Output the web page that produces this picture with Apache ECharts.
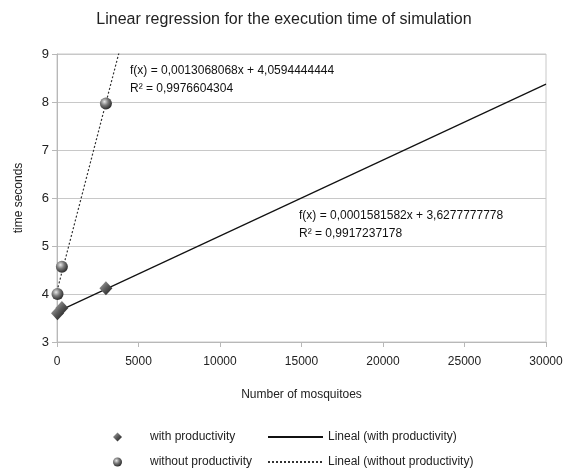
<!DOCTYPE html>
<html>
<head>
<meta charset="utf-8">
<script src="https://cdn.jsdelivr.net/npm/echarts@6/dist/echarts.min.js"></script>
<style>html,body{margin:0;padding:0;background:#fff}#c{width:568px;height:470px}</style>
</head>
<body>
<div id="c"></div>
<script>
// Data
const withProdX = [30, 300, 3000];
const withProdY = [3.6, 3.71, 4.12];
const withoutProdX = [30, 300, 3000];
const withoutProdY = [4.0, 4.57, 7.97];
// Regression coefficients shown on the chart
const fitWith = { slope: 0.0001581582, intercept: 3.6277777778, r2: '0,9917237178', label: '0,0001581582x + 3,6277777778' };
const fitWithout = { slope: 0.0013068068, intercept: 4.0594444444, r2: '0,9976604304', label: '0,0013068068x + 4,0594444444' };
const xRange = [0, 30000];
const yRange = [3, 9];

const pts = (xs, ys) => xs.map((x, i) => [x, ys[i]]);
const trend = f => xRange.map(x => [x, f.intercept + f.slope * x]);

const FONT = 'Liberation Sans, Arial, sans-serif';
const chart = echarts.init(document.getElementById('c'), null, { renderer: 'canvas' });

const sphere = new echarts.graphic.RadialGradient(0.38, 0.35, 0.7, [
  { offset: 0, color: '#e8e8e8' }, { offset: 0.45, color: '#7a7a7a' }, { offset: 1, color: '#222' }
]);
const diamond = new echarts.graphic.LinearGradient(0, 0, 1, 1, [
  { offset: 0, color: '#b0b0b0' }, { offset: 0.5, color: '#5a5a5a' }, { offset: 1, color: '#151515' }
]);

chart.setOption({
  animation: false,
  title: {
    text: 'Linear regression for the execution time of simulation',
    left: 'center', top: 7,
    textStyle: { fontFamily: FONT, fontSize: 16, fontWeight: 'normal', color: '#222' }
  },
  grid: { left: 57, right: 22, top: 54, bottom: 128, show: true, borderColor: '#c8c8c8', borderWidth: 1 },
  xAxis: {
    type: 'value', min: xRange[0], max: xRange[1], interval: 5000,
    name: 'Number of mosquitoes', nameLocation: 'middle', nameGap: 47,
    nameTextStyle: { fontFamily: FONT, fontSize: 12, color: '#222' },
    axisLine: { show: true, lineStyle: { color: '#b8b8b8' } },
    axisTick: { show: true, length: 5, lineStyle: { color: '#b8b8b8' } },
    axisLabel: { fontFamily: FONT, fontSize: 12, color: '#222', margin: 14, formatter: v => String(v) },
    splitLine: { show: false }
  },
  yAxis: {
    type: 'value', min: yRange[0], max: yRange[1], interval: 1,
    name: 'time seconds', nameLocation: 'middle', nameGap: 32,
    nameTextStyle: { fontFamily: FONT, fontSize: 12, color: '#222' },
    axisLine: { show: true, lineStyle: { color: '#b8b8b8' } },
    axisTick: { show: true, length: 5, lineStyle: { color: '#b8b8b8' } },
    axisLabel: { fontFamily: FONT, fontSize: 13, color: '#222', margin: 8 },
    splitLine: { show: true, lineStyle: { color: '#c8c8c8' } }
  },
  legend: [
    {
      orient: 'vertical', left: 113, top: 431, padding: 0, itemWidth: 9, itemHeight: 9, itemGap: 13,
      textStyle: { fontFamily: FONT, fontSize: 12, color: '#222', padding: [0, 0, 0, 23] },
      data: ['with productivity', 'without productivity']
    },
    {
      orient: 'vertical', left: 267, top: 431, padding: 0, itemWidth: 55, itemHeight: 10, itemGap: 13,
      itemStyle: { opacity: 0 },
      textStyle: { fontFamily: FONT, fontSize: 12, color: '#222' },
      data: ['Lineal (with productivity)', 'Lineal (without productivity)']
    }
  ],
  series: [
    {
      name: 'Lineal (with productivity)', type: 'line', data: trend(fitWith), symbol: 'none',
      lineStyle: { color: '#111', width: 1.2 }, itemStyle: { color: '#111' }, clip: true, z: 2
    },
    {
      name: 'Lineal (without productivity)', type: 'line', data: trend(fitWithout), symbol: 'none',
      lineStyle: { color: '#333', width: 1.2, type: [2, 2] }, itemStyle: { color: '#333' }, clip: true, z: 2
    },
    {
      name: 'with productivity', type: 'scatter', data: pts(withProdX, withProdY),
      symbol: 'diamond', symbolSize: [13, 14], itemStyle: { color: diamond, opacity: 1 }, z: 3
    },
    {
      name: 'without productivity', type: 'scatter', data: pts(withoutProdX, withoutProdY),
      symbol: 'circle', symbolSize: 12, itemStyle: { color: sphere, opacity: 1 }, z: 3
    }
  ],
  graphic: [
    { type: 'text', left: 130, top: 65, style: { text: 'f(x) = ' + fitWithout.label, font: '12px ' + FONT, fill: '#111' } },
    { type: 'text', left: 130, top: 83, style: { text: 'R² = ' + fitWithout.r2, font: '12px ' + FONT, fill: '#111' } },
    { type: 'text', left: 299, top: 210, style: { text: 'f(x) = ' + fitWith.label, font: '12px ' + FONT, fill: '#111' } },
    { type: 'text', left: 299, top: 228, style: { text: 'R² = ' + fitWith.r2, font: '12px ' + FONT, fill: '#111' } }
  ]
});
</script>
</body>
</html>
